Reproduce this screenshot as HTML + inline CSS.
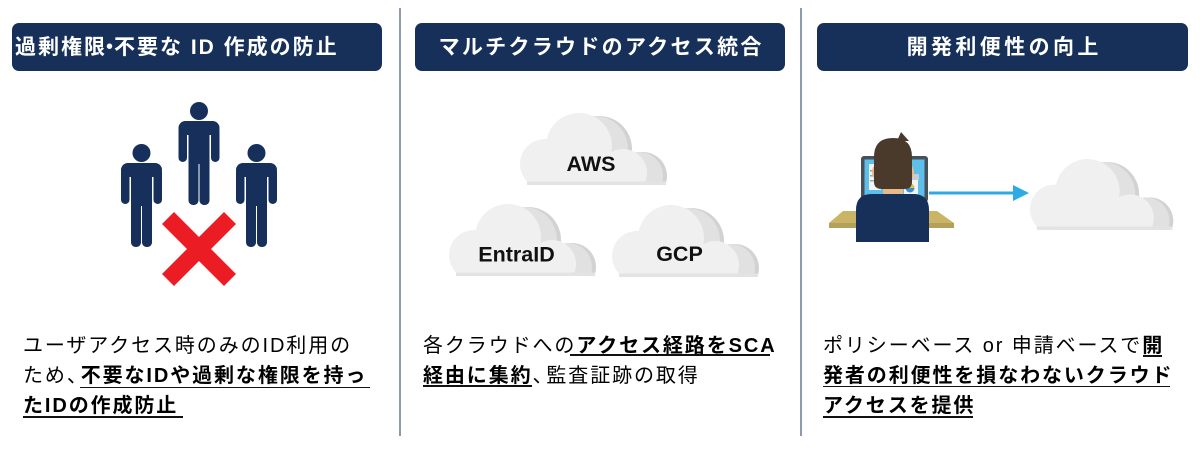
<!DOCTYPE html>
<html><head><meta charset="utf-8">
<style>
*{margin:0;padding:0;box-sizing:border-box}
html,body{width:1200px;height:452px;background:#fff;overflow:hidden}
body{position:relative;font-family:"Liberation Sans","Noto Sans CJK JP",sans-serif}
.hd{position:absolute;top:23px;height:48px;background:#17305a;border-radius:7px;color:#fff;font-weight:700;font-size:21px;line-height:48px;padding-top:1px;letter-spacing:2.3px;white-space:nowrap}
.sep{position:absolute;top:8px;width:1.6px;height:428px;background:#8d9ab0}
.tx{position:absolute;font-size:20px;line-height:30px;letter-spacing:1.9px;white-space:nowrap;color:#000}
.tx b{font-weight:700;color:#000}
.cm{margin-right:-8px}
.ul{position:absolute;height:1.8px;background:#111}
svg{position:absolute;left:0;top:0}
</style></head>
<body>
<svg width="1200" height="452" viewBox="0 0 1200 452">
<defs>
<clipPath id="cc"><rect x="-5" y="-5" width="170" height="77"/></clipPath>
<g id="cloud">
 <g clip-path="url(#cc)">
  <g fill="#d2d2d2" transform="translate(20,3)">
   <circle cx="26" cy="51" r="25"/><circle cx="60" cy="33" r="33"/><circle cx="104" cy="60" r="24"/><rect x="20" y="40" width="90" height="40"/>
  </g>
  <g fill="#e1e1e1" transform="translate(16,3)">
   <circle cx="26" cy="51" r="25"/><circle cx="60" cy="33" r="33"/><circle cx="104" cy="60" r="24"/><rect x="20" y="40" width="90" height="40"/>
  </g>
  <g fill="#f0f0f0">
   <circle cx="26" cy="51" r="25"/><circle cx="60" cy="33" r="33"/><circle cx="104" cy="60" r="24"/><rect x="20" y="40" width="90" height="40"/>
  </g>
  <rect x="8" y="68.5" width="139" height="4" fill="#e3e3e3"/>
 </g>
</g>
</defs>

<!-- people -->
<g fill="#16305b">
 <circle cx="199" cy="111" r="9"/>
 <rect x="178.5" y="121" width="41" height="14" rx="7"/>
 <rect x="178.5" y="126" width="8.5" height="36" rx="4.25"/>
 <rect x="211" y="126" width="8.5" height="36" rx="4.25"/>
 <rect x="188.5" y="126" width="21" height="38"/>
 <rect x="188.5" y="156" width="10" height="49" rx="4.5"/>
 <rect x="199.5" y="156" width="10" height="49" rx="4.5"/>
 <circle cx="141.5" cy="153" r="9"/>
 <rect x="121" y="163" width="41" height="14" rx="7"/>
 <rect x="121" y="168" width="8.5" height="36" rx="4.25"/>
 <rect x="153.5" y="168" width="8.5" height="36" rx="4.25"/>
 <rect x="131" y="168" width="21" height="38"/>
 <rect x="131" y="198" width="10" height="49" rx="4.5"/>
 <rect x="142" y="198" width="10" height="49" rx="4.5"/>
 <circle cx="256.5" cy="153" r="9"/>
 <rect x="236" y="163" width="41" height="14" rx="7"/>
 <rect x="236" y="168" width="8.5" height="36" rx="4.25"/>
 <rect x="268.5" y="168" width="8.5" height="36" rx="4.25"/>
 <rect x="246" y="168" width="21" height="38"/>
 <rect x="246" y="198" width="10" height="49" rx="4.5"/>
 <rect x="257" y="198" width="10" height="49" rx="4.5"/>
</g>
<g stroke="#ec1c24" stroke-width="17">
 <line x1="168" y1="218" x2="230" y2="280"/>
 <line x1="230" y1="218" x2="168" y2="280"/>
</g>

<!-- clouds section 2 -->
<use href="#cloud" transform="translate(519,113)"/>
<use href="#cloud" transform="translate(448,204)"/>
<use href="#cloud" transform="translate(611,205)"/>
<g font-family="Liberation Sans, sans-serif" font-weight="700" font-size="21.5" fill="#111" text-anchor="middle">
 <text x="591" y="171">AWS</text>
 <text x="516.5" y="261.5">EntraID</text>
 <text x="679.5" y="261">GCP</text>
</g>

<!-- section 3 -->
<polygon points="843,211 937,211 954,223 829,223" fill="#c9b565"/>
<rect x="829" y="223" width="125" height="5" fill="#b4a058"/>
<rect x="861" y="156" width="67" height="46" rx="3" fill="#48505a"/>
<rect x="864.5" y="159.5" width="60" height="40" fill="#5cc0ea"/>
<rect x="869" y="164" width="12" height="26" fill="#f2f4f6"/>
<rect x="870" y="170" width="9" height="1.5" fill="#9aa"/>
<rect x="870" y="175" width="9" height="1.5" fill="#9aa"/>
<rect x="870" y="180" width="9" height="1.5" fill="#9aa"/>
<rect x="904" y="174" width="15" height="6" fill="#c8ccd0"/>
<rect x="904" y="180" width="14" height="14" fill="#f2f4f6"/>
<circle cx="910" cy="188" r="4.5" fill="#3a8fd0"/>
<path d="M910,188 L910,183.5 A4.5,4.5 0 0,1 914.5,188 Z" fill="#e8c040"/>
<rect x="883" y="178" width="20" height="19" fill="#e9b98a"/>
<ellipse cx="875" cy="172" rx="3" ry="6" fill="#e9b98a"/>
<ellipse cx="911" cy="172" rx="3" ry="6" fill="#e9b98a"/>
<path d="M874,188 L874,157 Q874,138 893,138 Q912,138 912,157 L912,182 Q912,189 904,189 L882,189 Q874,189 874,182 Z" fill="#4a3a2c"/>
<polygon points="897,141 901,132 909,141" fill="#4a3a2c"/>
<path d="M856,242 L856,210 Q856,194 872,194 L913,194 Q929,194 929,210 L929,242 Z" fill="#17305a"/>
<rect x="929" y="191.5" width="86" height="3" fill="#2dabe3"/>
<polygon points="1013,185 1029,193 1013,201" fill="#2dabe3"/>
<use href="#cloud" transform="translate(1029,159) scale(0.975,0.985)"/>
</svg>

<div class="sep" style="left:399px"></div>
<div class="sep" style="left:800px"></div>

<div class="hd" style="left:12px;width:370px;padding-left:3px;letter-spacing:2px">過剰権限<span style="margin:0 -8px">・</span>不要な ID 作成の防止</div>
<div class="hd" style="left:415px;width:370px;text-align:center;padding-left:2.3px">マルチクラウドのアクセス統合</div>
<div class="hd" style="left:817px;width:371px;text-align:center;padding-left:3.4px;letter-spacing:3.4px">開発利便性の向上</div>

<div class="tx" style="left:23px;top:330.5px">
<div>ユーザアクセス時のみのID利用の</div>
<div>ため<span class="cm">、</span><b>不要なIDや過剰な権限を持っ</b></div>
<div><b>たIDの作成防止</b></div>
</div>
<div class="ul" style="left:80px;width:290px;top:386.5px"></div>
<div class="ul" style="left:23px;width:160px;top:416px"></div>

<div class="tx" style="left:423px;top:330.5px">
<div>各クラウドへの<b>アクセス経路をSCA</b></div>
<div><b>経由に集約</b><span class="cm">、</span>監査証跡の取得</div>
</div>
<div class="ul" style="left:570px;width:200px;top:354px"></div>
<div class="ul" style="left:423px;width:109px;top:385px"></div>

<div class="tx" style="left:823px;top:330.5px">
<div>ポリシーベース or 申請ベースで<b>開</b></div>
<div><b>発者の利便性を損なわないクラウド</b></div>
<div><b>アクセスを提供</b></div>
</div>
<div class="ul" style="left:1143px;width:19px;top:355px"></div>
<div class="ul" style="left:823px;width:347px;top:385.5px"></div>
<div class="ul" style="left:823px;width:150px;top:416px"></div>
</body></html>
